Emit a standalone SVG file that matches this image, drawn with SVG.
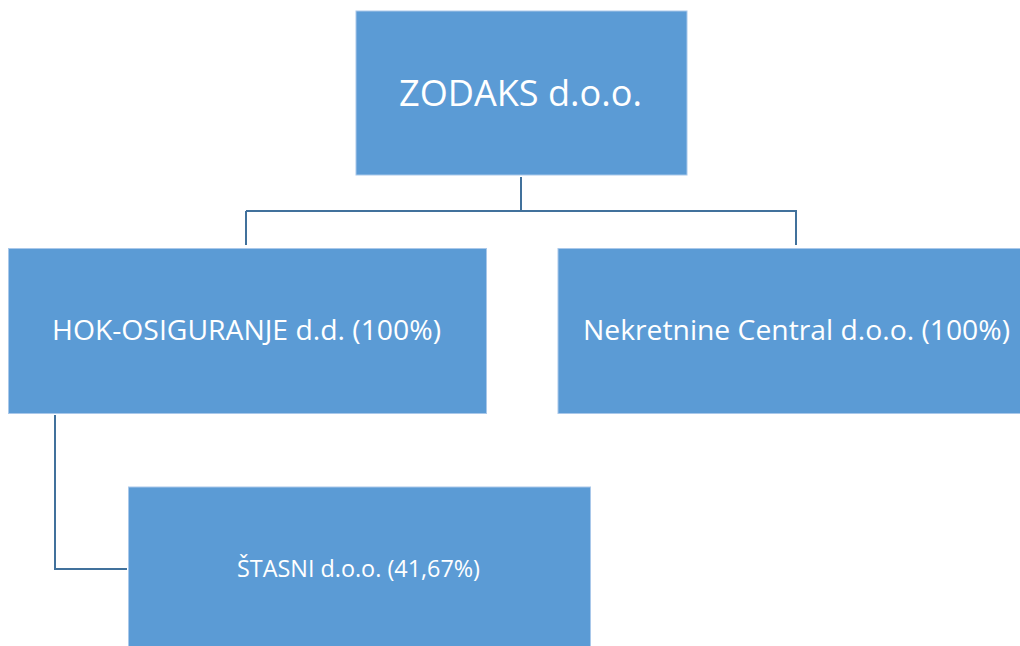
<svg xmlns="http://www.w3.org/2000/svg" width="1020" height="646" viewBox="0 0 1020 646">
<style>
.box{fill:#5B9BD5;stroke:#A9C8EA;stroke-width:1}
.lbl{fill:#FFFFFF;font-family:"Open Sans","Liberation Sans",Arial,sans-serif;text-anchor:middle}
.con{fill:none;stroke:#41719C;stroke-width:2}
</style>
<rect width="1020" height="646" fill="#FFFFFF"/>
<g id="connectors">
<path class="con" d="M521,177 V211 M246,211 H797 M246,211 V245 M796,211 V245"/>
<path class="con" d="M55,415 V569 H127"/>
</g>
<g id="zodaks">
<rect class="box" x="356" y="11" width="331" height="164"/>
<text class="lbl" x="520.5" y="106" font-size="37" textLength="243" lengthAdjust="spacingAndGlyphs">ZODAKS d.o.o.</text>
</g>
<g id="hok">
<rect class="box" x="8.5" y="248.5" width="478" height="165"/>
<text class="lbl" x="246.5" y="340" font-size="28" textLength="389" lengthAdjust="spacingAndGlyphs">HOK-OSIGURANJE d.d. (100%)</text>
</g>
<g id="nekretnine">
<rect class="box" x="558" y="248.5" width="480" height="165"/>
<text class="lbl" x="796.5" y="340" font-size="28" textLength="427" lengthAdjust="spacingAndGlyphs">Nekretnine Central d.o.o. (100%)</text>
</g>
<g id="stasni">
<rect class="box" x="128.5" y="487" width="462" height="175"/>
<text class="lbl" x="358.5" y="577" font-size="23" textLength="243" lengthAdjust="spacingAndGlyphs">ŠTASNI d.o.o. (41,67%)</text>
</g>
</svg>
